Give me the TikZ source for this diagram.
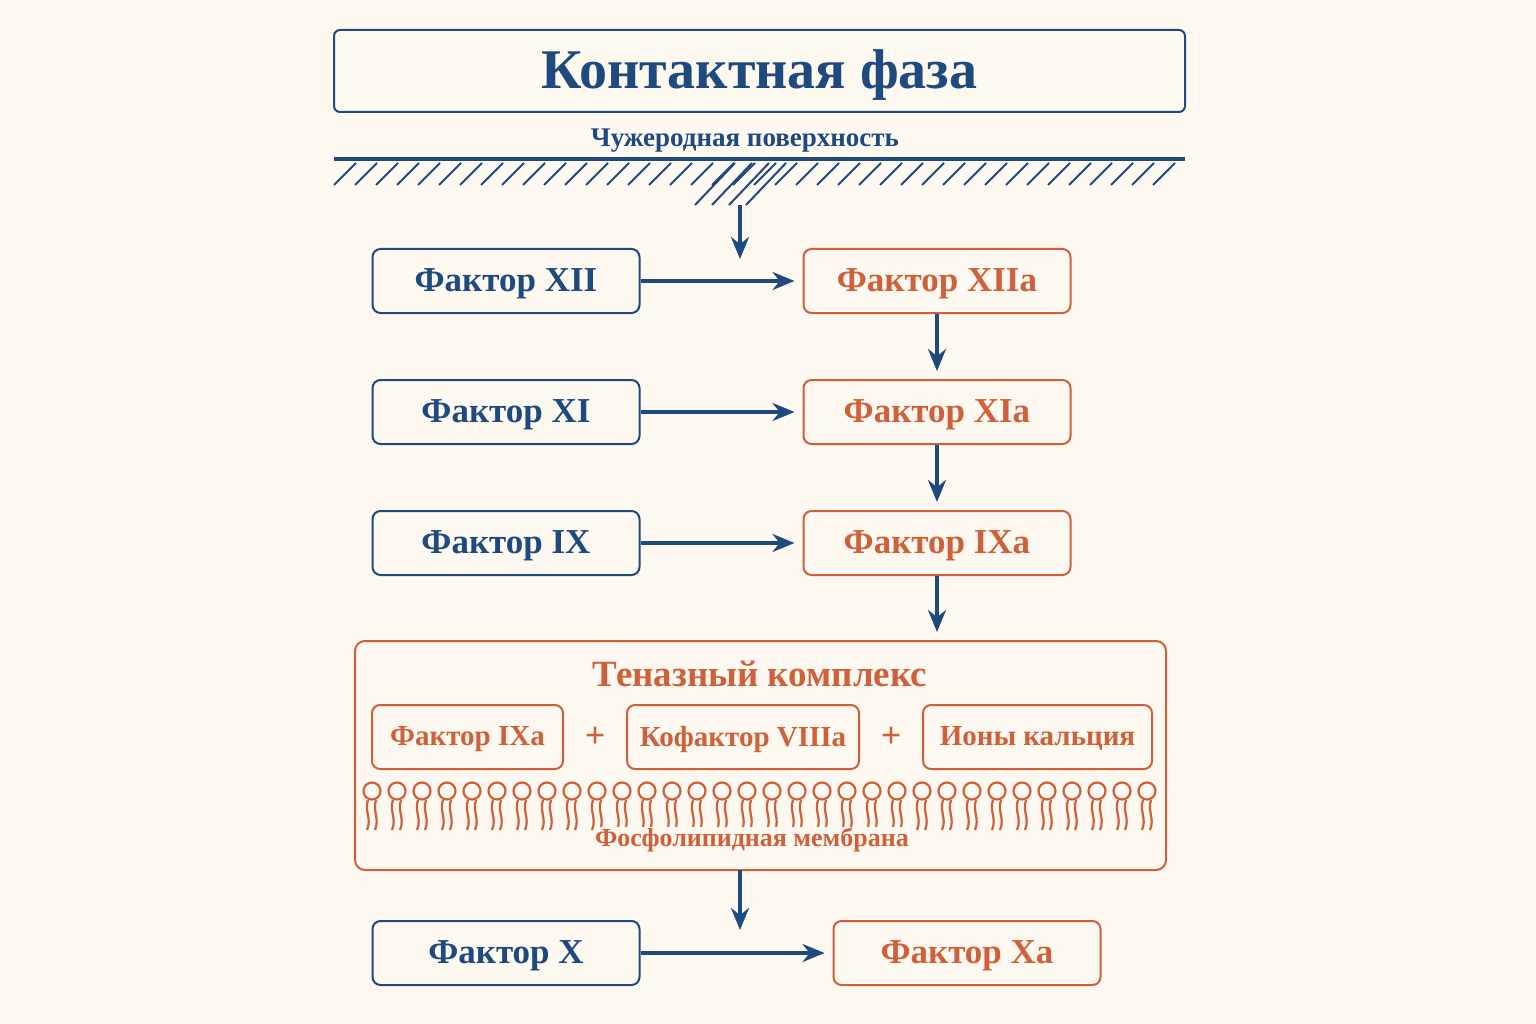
\documentclass[tikz,border=0pt]{standalone}
\usepackage{fontspec}
\setmainfont{Liberation Serif}
\usetikzlibrary{positioning,arrows.meta}
\definecolor{bgc}{HTML}{FDF8F0}
\definecolor{blu}{HTML}{1F4A80}
\definecolor{ora}{HTML}{D0603A}
\begin{document}
\begin{tikzpicture}[x=1pt,y=-1pt,
        factor/.style = {
            draw=#1,
            text=#1,
            rounded corners=8pt,
            line width=2pt,
            minimum width=267pt,
            minimum height=64pt,
            text depth=2pt,
            font=\fontsize{35}{38}\selectfont\bfseries
        },
        factor/.default = blu,
        small/.style = {
            draw=ora, text=ora, rounded corners=8pt, line width=2pt,
            minimum height=64pt, inner sep=2pt, text depth=2pt,
            font=\fontsize{29}{32}\selectfont\bfseries
        },
        arr/.style = {draw=blu, line width=3.5pt, shorten >=8pt, -{Stealth[length=22pt,width=18pt]}}
    ]
    \useasboundingbox[fill=bgc] (0,0) rectangle (1536,1024);

    % title and surface
    \node[draw=blu, rounded corners=6pt, line width=2pt, minimum width=851pt, minimum height=82pt,
        text depth=4pt, text=blu, font=\fontsize{56}{60}\selectfont\bfseries] (title) at (759.5,71) {Контактная фаза};
    \node[text=blu, font=\fontsize{27}{30}\selectfont\bfseries] (surf) at (745,141) {Чужеродная поверхность};
    \draw[blu, line width=4pt] (334,159) -- (1185,159);
    \foreach \x in {334,355,...,1170}
        \draw[blu, line width=2pt] (\x,185) -- (\x+22,163);
    \foreach \x in {695,712,...,760}
        \draw[blu, line width=2pt] (\x,205) -- (\x+40,163);
    \coordinate (top) at (740,205);

    % factors
    \node[factor] (f12) at (506,281) {Фактор XII};
    \node[factor=ora] (f12a) at (937,281) {Фактор XIIa};
    \node[factor] (f11) at (506,412) {Фактор XI};
    \node[factor=ora] (f11a) at (937,412) {Фактор XIa};
    \node[factor] (f9) at (506,543) {Фактор IX};
    \node[factor=ora] (f9a) at (937,543) {Фактор IXa};
    \node[factor] (f10) at (506,953) {Фактор X};
    \node[factor=ora] (f10a) at (967,953) {Фактор Xa};

    % tenase complex
    \node[draw=ora, rounded corners=10pt, line width=2pt, minimum width=811pt, minimum height=229pt] (ten) at (760.5,755.5) {};
    \node[text=ora, font=\fontsize{37}{40}\selectfont\bfseries] (tent) at (760,674) {Теназный комплекс};
    \node[small, minimum width=191pt] (c1) at (467.5,737) {Фактор IXa};
    \node[small, minimum width=232pt] (c2) at (743,737) {Кофактор VIIIa};
    \node[small, minimum width=229pt] (c3) at (1037.5,737) {Ионы кальция};
    \node[text=ora, font=\fontsize{36}{40}\selectfont\bfseries] (p1) at (595,737) {+};
    \node[text=ora, font=\fontsize{36}{40}\selectfont\bfseries] (p2) at (891,737) {+};
    \foreach \x in {372,397,...,1150} {
        \draw[ora, line width=2.2pt] (\x,791) circle (8.5);
        \draw[ora, line width=2.2pt] (\x-4,800) .. controls (\x-8,811) and (\x,818) .. (\x-5,830);
        \draw[ora, line width=2.2pt] (\x+4,800) .. controls (\x,811) and (\x+8,818) .. (\x+3,830);
    }
    \node[text=ora, font=\fontsize{26}{28}\selectfont\bfseries, fill=bgc, inner sep=1pt] (mem) at (752,840) {Фосфолипидная мембрана};

    % arrows
    \draw[arr] (top) -- ++(0,62);
    \draw[arr] (f12) -- (f12a);
    \draw[arr] (f11) -- (f11a);
    \draw[arr] (f9) -- (f9a);
    \draw[arr] (f12a) -- (f11a);
    \draw[arr] (f11a) -- (f9a);
    \draw[arr] (f9a) -- (f9a |- ten.north);
    \draw[arr] (f10) -- (f10a);
    \draw[arr] (740,870) -- (740,938);
\end{tikzpicture}
\end{document}
